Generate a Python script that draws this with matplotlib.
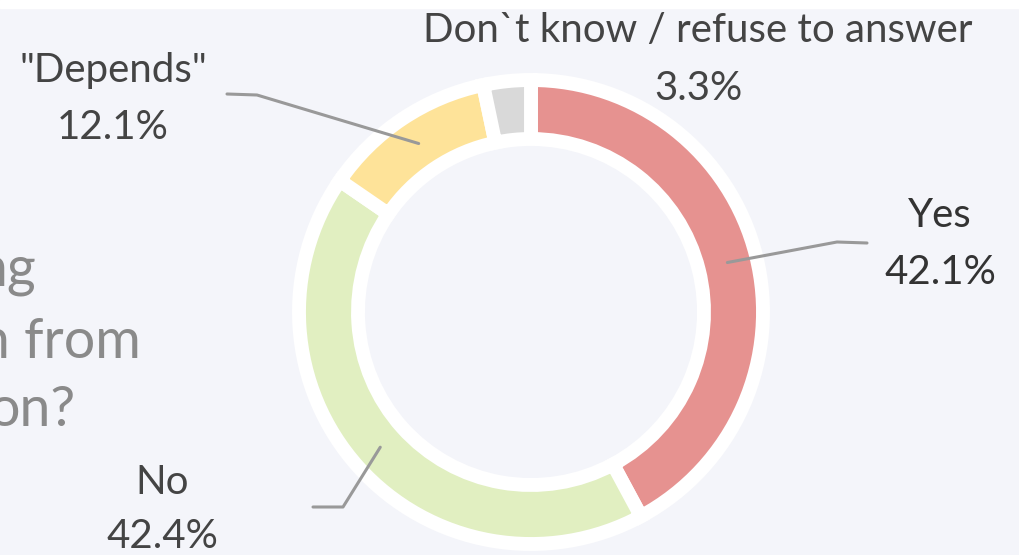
"""Donut chart: Yes / No / Depends / Don't know."""

import numpy as np
import matplotlib.pyplot as plt

# data
labels = ["Yes", "No", '"Depends"', "Don`t know / refuse to answer"]
values = [42.1, 42.4, 12.1, 3.3]
pct_labels = ["42.1%", "42.4%", "12.1%", "3.3%"]
colors = ["#e69290", "#e1efc1", "#fee399", "#d9d9d9"]

# clipped question text on the left edge
question_bits = ["ng", "n from", "on?"]

W, H = 1020, 555
BG = "#f4f5fa"

fig = plt.figure(figsize=(W / 100, H / 100), dpi=100)
fig.patch.set_facecolor(BG)
ax = fig.add_axes([0, 0, 1, 1])
ax.set_facecolor(BG)

plt.rcParams["font.family"] = ["Lato", "DejaVu Sans"]

cx, cy = 531, H - 312
R, ring_w = 232, 59

wedges, _ = ax.pie(
    values,
    colors=colors,
    startangle=90,
    counterclock=False,
    radius=R,
    center=(cx, cy),
    explode=[0, 0, 0, 0.03],
    wedgeprops=dict(width=ring_w, edgecolor="white", linewidth=10),
    frame=True,
)
ax.set_xlim(0, W)
ax.set_ylim(0, H)
ax.set_aspect("equal")
ax.axis("off")

# top strip (cut-off header)
ax.axhspan(H - 8, H, color="white", zorder=0)

# label layout (image coords): name y, pct y, x, leader elbow, leader end
layout = {
    "Yes": dict(x=940, y1=215, y2=272, elbow=(837, 242), end=(867, 243), color="#333333"),
    "No": dict(x=162, y1=482, y2=537, elbow=(343, 507), end=(313, 507), color="#444444"),
    '"Depends"': dict(x=113, y1=70, y2=127, elbow=(257, 95), end=(227, 94), color="#444444"),
    "Don`t know / refuse to answer": dict(x=698, y1=30, y2=88, elbow=None, end=None, color="#444444"),
}

fs = 29
for w, name, pct in zip(wedges, labels, pct_labels):
    L = layout[name]
    ax.text(L["x"], H - L["y1"], name, ha="center", va="center", fontsize=fs, color=L["color"])
    ax.text(L["x"], H - L["y2"], pct, ha="center", va="center", fontsize=fs, color=L["color"])
    if L["elbow"] is None:
        continue
    mid = np.deg2rad((w.theta1 + w.theta2) / 2)
    r_mid = R - ring_w / 2
    x0, y0 = cx + r_mid * np.cos(mid), cy + r_mid * np.sin(mid)
    ex, ey = L["elbow"]
    tx, ty = L["end"]
    ax.plot([x0, ex, tx], [y0, H - ey, H - ty], color="#999999", lw=2.2,
            solid_capstyle="round", zorder=5)

# partially visible question text at the left edge
for txt, xr, yy in zip(question_bits, [36, 141, 76], [270, 342, 410]):
    ax.text(xr, H - yy, txt, ha="right", va="center", fontsize=40, color="#8a8a8a")

fig.savefig("out.png", dpi=100, facecolor=BG)
